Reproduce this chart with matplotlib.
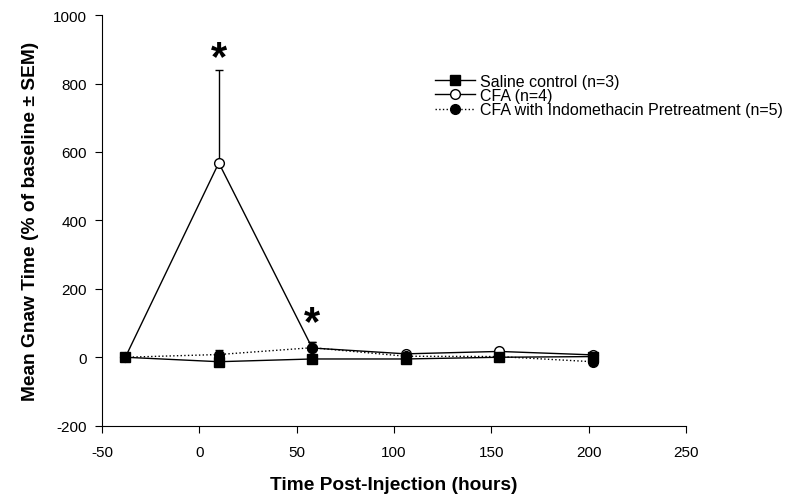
import numpy as np
import matplotlib
matplotlib.use("Agg")
import matplotlib.pyplot as plt
from matplotlib.lines import Line2D

plt.rcParams['font.family'] = ['Liberation Sans', 'DejaVu Sans']
plt.rcParams['axes.unicode_minus'] = False

hours = [-38, 10, 58, 106, 154, 202]

saline = [0, -13, -5, -5, 0, 2]
saline_err = [0, 0, 0, 0, 0, 0]

cfa = [0, 568, 27, 10, 17, 7]
cfa_err = [0, 272, 18, 4, 5, 3]

indo = [0, 8, 28, 3, 2, -13]
indo_err = [0, 14, 18, 3, 3, 2]

labels = ["Saline control (n=3)", "CFA (n=4)",
          "CFA with Indomethacin Pretreatment (n=5)"]

stars_x = [10, 58]
stars_y = [875, 100]

fig = plt.figure(figsize=(8, 5.02), dpi=100)
ax = fig.add_axes([0.1275, 0.150, 0.73, 0.818])

zeros = np.zeros(len(hours))
ax.errorbar(hours, saline, yerr=[zeros, saline_err], fmt='-s', color='black',
            mfc='black', ms=7, lw=1, elinewidth=1, capsize=3, zorder=3)
ax.errorbar(hours, cfa, yerr=[zeros, cfa_err], fmt='-o', color='black',
            mfc='white', ms=7, lw=1, elinewidth=1, capsize=3, zorder=2)
ax.errorbar(hours, indo, yerr=[zeros, indo_err], fmt='o', ls=':', color='black',
            mfc='black', ms=7, lw=1, elinewidth=1, capsize=3, zorder=4)

for sx, sy in zip(stars_x, stars_y):
    ax.text(sx, sy, '*', ha='center', va='center', fontsize=30, fontweight='bold')

ax.set_xlim(-50, 250)
ax.set_ylim(-200, 1000)
ax.set_xticks(np.arange(-50, 251, 50))
ax.set_yticks(np.arange(-200, 1001, 200))
ax.spines['top'].set_visible(False)
ax.spines['right'].set_visible(False)
ax.tick_params(direction='out', length=5, labelsize=11)
ax.tick_params(axis='x', pad=9)
ax.tick_params(axis='y', pad=6)

ax.set_xlabel('Time Post-Injection (hours)', fontsize=13.8, fontweight='bold', labelpad=12)
ax.set_ylabel('Mean Gnaw Time (% of baseline \u00b1 SEM)', fontsize=13.8,
              fontweight='bold', labelpad=10)

handles = [
    Line2D([], [], color='black', lw=1, marker='s', ms=7, mfc='black'),
    Line2D([], [], color='black', lw=1, marker='o', ms=7, mfc='white'),
    Line2D([], [], color='black', lw=1, ls=':', marker='o', ms=7, mfc='black'),
]
ax.legend(handles, labels, loc='upper left', bbox_to_anchor=(0.570, 0.857),
          frameon=False, fontsize=11.5, handlelength=2.5, labelspacing=-0.05,
          handletextpad=0.35, borderpad=0, borderaxespad=0)

fig.savefig('out.png', dpi=100)
